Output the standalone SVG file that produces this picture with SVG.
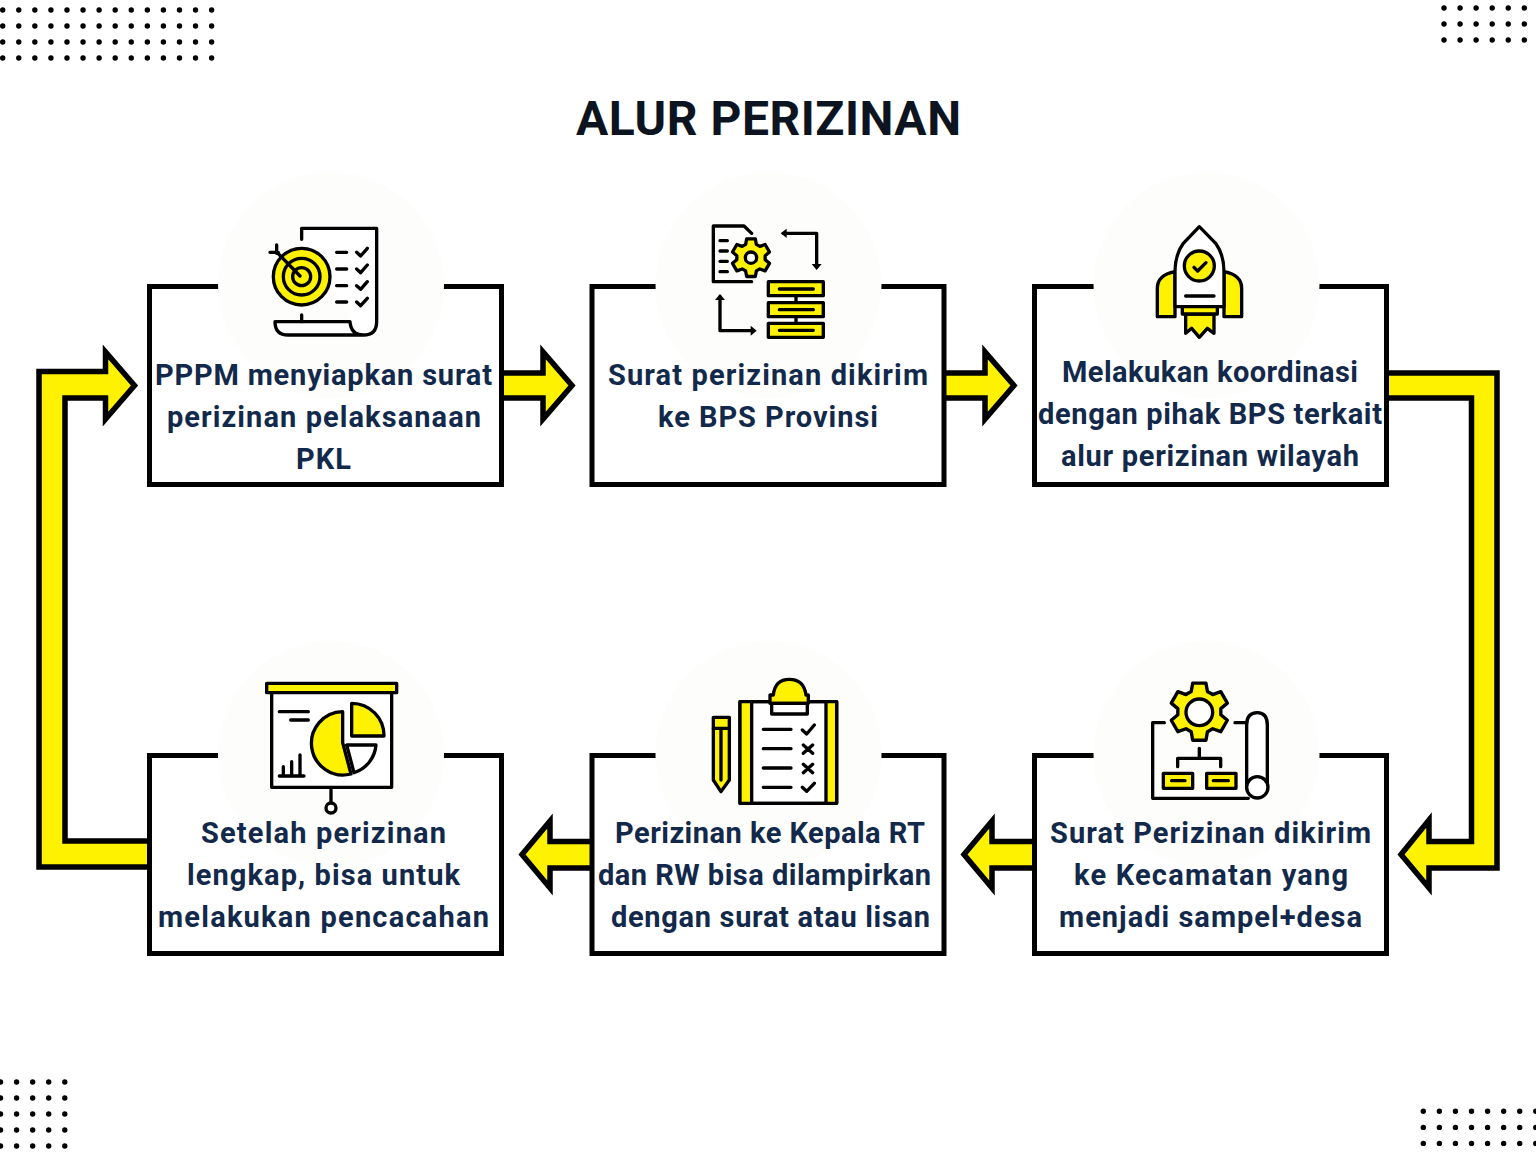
<svg xmlns="http://www.w3.org/2000/svg" width="1536" height="1152" viewBox="0 0 1536 1152">
<style>
.dots{stroke:#000;stroke-width:5.4;stroke-linecap:round;stroke-dasharray:0 16.07;fill:none}
.box{fill:#fff;stroke:#000;stroke-width:5}
.halo{fill:#fdfdfb}
.arrow{fill:#fff200;stroke:#000;stroke-width:5.5;stroke-linejoin:miter;stroke-miterlimit:10}
.t{font-family:"Roboto","Liberation Sans",sans-serif;font-weight:700;font-size:29px;fill:#13294b}
.title{font-family:"Roboto","Liberation Sans",sans-serif;font-weight:700;font-size:48px;fill:#0b1420}
.i{fill:none;stroke:#000;stroke-width:10;stroke-linecap:round;stroke-linejoin:round}
.y{fill:#fff200}
.w{fill:#fff}
.k{fill:#000;stroke:none}
</style>
<defs>
<polygon id="gear" points="22.5,-97.4 27.7,-68.6 45.6,-58.3 73.1,-68.2 95.6,-29.2 73.3,-10.3 73.3,10.3 95.6,29.2 73.1,68.2 45.6,58.3 27.7,68.6 22.5,97.4 -22.5,97.4 -27.7,68.6 -45.6,58.3 -73.1,68.2 -95.6,29.2 -73.3,10.3 -73.3,-10.3 -95.6,-29.2 -73.1,-68.2 -45.6,-58.3 -27.7,-68.6 -22.5,-97.4"/>
</defs>
<rect width="1536" height="1152" fill="#fff"/>
<g id="dots">
<path class="dots" d="M2.7 10H215M2.7 26H215M2.7 42H215M2.7 58H215"/>
<path class="dots" d="M1444 8H1536M1444 24H1536M1444 40H1536"/>
<path class="dots" d="M0.500 1082H68M0.500 1098H68M0.500 1114H68M0.500 1130H68M0.500 1146H68"/>
<path class="dots" d="M1423.3 1111.3H1536M1423.3 1127.4H1536M1423.3 1143.4H1536"/>
</g>
<text class="title" x="576" y="135" textLength="385">ALUR PERIZINAN</text>
<g id="connectors">
<polygon class="arrow" points="495,373 543,373 543,352 572,385.5 543,419 543,398 495,398"/>
<polygon class="arrow" points="938,373 985,373 985,352 1014,385.5 985,419 985,398 938,398"/>
<polygon class="arrow" points="1380,373 1497,373 1497,868 1429,868 1429,888 1401,854.5 1429,820 1429,841.5 1471.5,841.5 1471.5,398 1380,398"/>
<polygon class="arrow" points="1040,841.5 992,841.5 992,821 964,854.5 992,888 992,868 1040,868"/>
<polygon class="arrow" points="598,841.5 550,841.5 550,821 522,854.5 550,888 550,868 598,868"/>
<polygon class="arrow" points="155,867 39,867 39,371.5 105.5,371.5 105.5,352 134.5,385.5 105.5,419 105.5,398 65,398 65,841 155,841"/>
</g>
<g id="node1">
<rect class="box" x="149.500" y="286.500" width="352" height="198"/><circle class="halo" cx="331" cy="285" r="113"/>
<g transform="translate(220 190) scale(.3333)">
<path class="i w" d="M245 148V115H470V395Q470 435 430 435 393 435 390 395H165Q165 435 205 435H430"/>
<path class="i" d="M245 375V395M350 187H380M350 237H380M350 287H380M350 336H380M410 187L422 198 442 175M410 237L422 248 442 225M410 287L422 298 442 275M410 336L422 347 442 325"/>
<circle class="i y" cx="245" cy="260" r="85"/><circle class="i" cx="245" cy="260" r="55"/><circle class="i" cx="245" cy="260" r="27"/>
<path class="i" d="M172 188L240 258M150 187H175M170 165V190"/>
</g>
<text class="t" x="155" y="385" textLength="337">PPPM menyiapkan surat</text>
<text class="t" x="167" y="427" textLength="314">perizinan pelaksanaan</text>
<text class="t" x="296" y="469" textLength="55">PKL</text>
</g>
<g id="node2">
<rect class="box" x="592" y="286.500" width="352" height="198"/><circle class="halo" cx="768.500" cy="285" r="113"/>
<g transform="translate(670 200) scale(.3333)">
<path class="i" d="M245 100L222 78H130V245H245M150 122H172M150 153H172M150 184H172M150 215H172"/>
<use href="#gear" class="i y" transform="translate(243 173) scale(.58)" style="stroke-width:17"/>
<circle class="i w" cx="243" cy="173" r="17"/>
<path class="i" d="M340 100H440V200M150 290V392H250"/>
<path class="k" d="M332 100L350 86V114ZM440 210L425 192H455ZM150 282L135 300H165ZM260 392L242 377V407Z"/>
<path class="i" d="M378 290V308M378 350V370"/>
<rect class="i y" x="295" y="245" width="165" height="42"/><rect class="i y" x="295" y="308" width="165" height="42"/><rect class="i y" x="295" y="370" width="165" height="42"/>
<path class="i" d="M328 267H430M328 329H430M328 391H430"/>
</g>
<text class="t" x="608" y="385" textLength="320">Surat perizinan dikirim</text>
<text class="t" x="658" y="427" textLength="220">ke BPS Provinsi</text>
</g>
<g id="node3">
<rect class="box" x="1034.500" y="286.500" width="352" height="198"/><circle class="halo" cx="1206.500" cy="285" r="113"/>
<g transform="translate(1120 200) scale(.3333)">
<path class="i y" d="M165 215Q112 225 112 265V350H165ZM312 215Q365 225 365 265V350H312Z"/>
<path class="i w" d="M238 80L190 130Q165 165 165 215V320H312V215Q312 165 287 130Z"/>
<circle class="i y" cx="238" cy="198" r="45"/>
<path class="i" d="M222 202L233 213 258 188M197 288H282"/>
<path class="i y" d="M197 342V400L215 385 238 412 262 385 282 400V342Z"/>
<rect class="i y" x="187" y="320" width="105" height="22"/>
</g>
<text class="t" x="1062" y="382" textLength="296">Melakukan koordinasi</text>
<text class="t" x="1038" y="424" textLength="344">dengan pihak BPS terkait</text>
<text class="t" x="1061" y="466" textLength="298">alur perizinan wilayah</text>
</g>
<g id="node4">
<rect class="box" x="1034.500" y="755.500" width="352" height="198"/><circle class="halo" cx="1206.500" cy="754" r="113"/>
<g transform="translate(1130 670) scale(.3333)">
<path class="i" d="M103 158H68V385H355M315 158H350"/>
<use href="#gear" class="i y" transform="translate(208 125) scale(.88)" style="stroke-width:11.500"/>
<circle class="i w" cx="208" cy="127" r="40"/>
<path class="i w" d="M350 350V165Q350 128 382 128 412 128 412 165V350"/>
<circle class="i w" cx="382" cy="352" r="32"/>
<path class="i" d="M208 235V265M143 290V265H272V290"/>
<rect class="i y" x="100" y="310" width="88" height="45"/><rect class="i y" x="230" y="310" width="88" height="45"/>
<path class="i" d="M125 332H165M250 332H295"/>
</g>
<text class="t" x="1050" y="843" textLength="321">Surat Perizinan dikirim</text>
<text class="t" x="1074" y="885" textLength="274">ke Kecamatan yang</text>
<text class="t" x="1059" y="927" textLength="303">menjadi sampel+desa</text>
</g>
<g id="node5">
<rect class="box" x="592" y="755.500" width="352" height="198"/><circle class="halo" cx="768.500" cy="754" r="113"/>
<g transform="translate(690 670) scale(.3333)">
<rect class="i w" x="150" y="95" width="290" height="305"/>
<rect class="y" x="150" y="95" width="35" height="305"/><rect class="y" x="408" y="95" width="32" height="305"/>
<rect class="i" x="150" y="95" width="290" height="305"/>
<path class="i" d="M185 95V400M408 95V400"/>
<path class="i y" d="M240 95V75H250Q255 28 298 28 342 28 348 75H355V100H240Z"/>
<rect class="i w" x="245" y="100" width="107" height="32"/>
<path class="i" d="M220 178H303M220 236H303M220 294H303M220 352H303M337 180L350 192 373 165M340 225L368 250M368 225L340 250M340 283L368 308M368 283L340 308M337 352L350 364 373 340"/>
<path class="i y" d="M70 142H118V330L93 365 70 330Z"/>
<path class="i" d="M70 175H118M93 180V330"/>
</g>
<text class="t" x="615" y="843" textLength="310">Perizinan ke Kepala RT</text>
<text class="t" x="598" y="885" textLength="333">dan RW bisa dilampirkan</text>
<text class="t" x="611" y="927" textLength="319">dengan surat atau lisan</text>
</g>
<g id="node6">
<rect class="box" x="149.500" y="755.500" width="352" height="198"/><circle class="halo" cx="331" cy="754" r="113"/>
<g transform="translate(250 670) scale(.3333)">
<path class="i w" d="M65 68V352H425V68"/>
<rect class="i y" x="50" y="40" width="390" height="28"/>
<path class="i" d="M243 352V400M88 125H175M122 150H175M88 318H162M100 318V290M125 318V275M150 318V255"/>
<circle class="i w" cx="243" cy="414" r="15"/>
<path class="i y" d="M278 125V218L303 312A95 95 0 1 1 278 125Z"/>
<path class="i w" d="M290 225H378A95 95 0 0 1 312 308Z"/>
<path class="i y" d="M305 100V198H402A97 97 0 0 0 305 100Z"/>
</g>
<text class="t" x="201" y="843" textLength="245">Setelah perizinan</text>
<text class="t" x="187" y="885" textLength="273">lengkap, bisa untuk</text>
<text class="t" x="158" y="927" textLength="331">melakukan pencacahan</text>
</g>
</svg>
